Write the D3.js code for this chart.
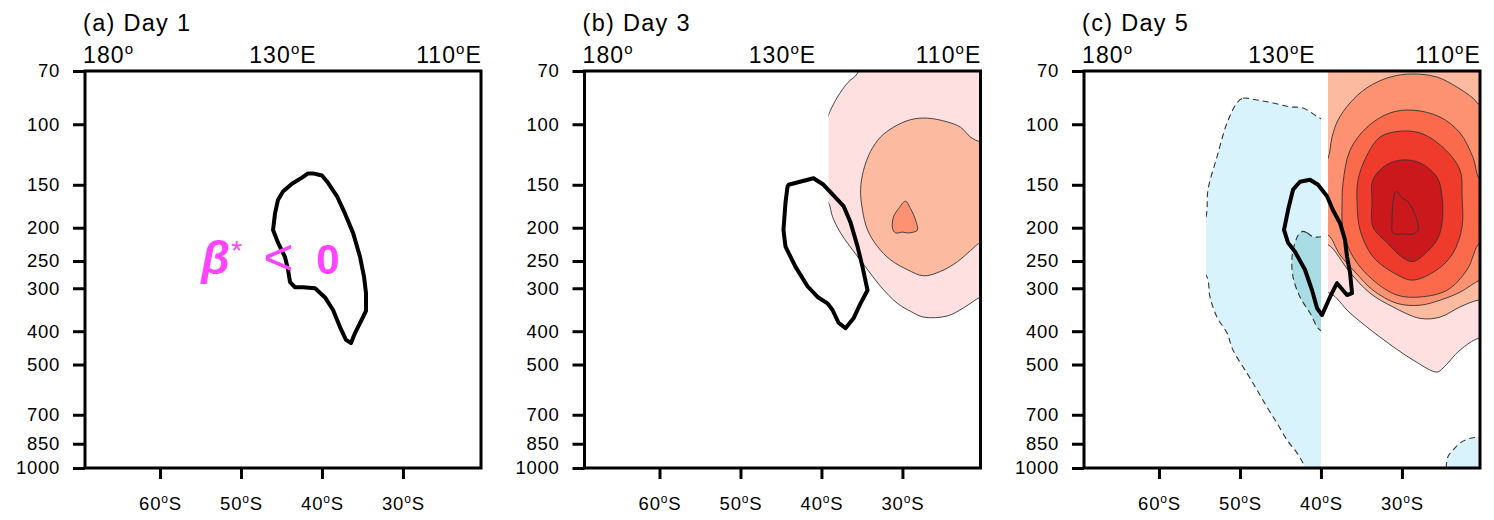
<!DOCTYPE html>
<html>
<head>
<meta charset="utf-8">
<script src="https://cdn.jsdelivr.net/npm/d3@7"></script>
<style>
  body { margin: 0; background: #fff; }
  svg { display: block; }
  text { font-family: "Liberation Sans", Arial, Helvetica, sans-serif; fill: #000; }
</style>
</head>
<body>
<svg id="chart" width="1494" height="520"></svg>
<script>
// ---- data (latitude in degrees, negative = south; pressure in hPa) ----
const panelTitles = ["(a) Day 1", "(b) Day 3", "(c) Day 5"];
const pressureTicks = [70, 100, 150, 200, 250, 300, 400, 500, 700, 850, 1000];
const latTicks = [-60, -50, -40, -30];
const lonLabels = [["180", ""], ["130", "E"], ["110", "E"]];

const posColors = ["#fee0e1", "#fcbba1", "#fc9272", "#fb6a4a", "#ef3b2c", "#cb181d"];
const negColors = ["#d9f3fc", "#a9dde6"];
const posMaskLat = -39.13;
const negMaskLat = [-54.19, -40.0];

// beta* = 0 contours
const day1Beta = [[-41.1,139],[-40.0,141],[-39.25,148],[-38.14,162],[-37.15,182],[-36.16,207],[-35.3,243],[-34.8,278],[-34.56,310],[-34.56,349],[-35.3,379],[-35.92,405],[-36.41,433],[-37.03,424],[-37.77,389],[-38.63,347],[-39.62,319],[-40.85,300],[-42.34,298],[-43.33,298],[-43.94,288],[-44.19,265],[-44.57,243],[-45.43,221],[-46.04,203],[-45.8,182],[-45.43,166],[-44.81,157],[-43.7,149],[-42.46,143],[-41.72,139]];
const day3Beta = [[-44.07,150],[-40.98,143.6],[-39.74,150],[-38.63,160],[-37.27,173],[-36.41,193],[-35.54,227],[-34.93,260],[-34.31,304],[-35.17,332],[-36.04,367],[-37.03,392],[-37.89,378],[-38.63,347],[-39.25,332],[-40.48,318],[-41.72,296],[-43.2,260],[-44.44,227],[-44.69,203],[-44.44,169],[-44.19,152]];
const day5Beta = [[-42.59,147],[-41.35,145],[-40.36,150],[-39.25,162],[-38.51,178],[-37.64,194],[-37.03,217],[-36.78,243],[-36.41,270],[-36.16,310],[-36.78,314],[-38.02,290],[-38.88,318],[-39.87,359],[-40.48,343],[-41.1,304],[-41.97,265],[-43.2,235],[-44.07,221],[-44.56,203],[-44.07,178],[-43.45,155]];

// day 3 positive anomaly contours
const day3Pos1 = [[-35.54,71],[-36.78,75.8],[-38.02,83.3],[-38.88,91],[-39.13,94],[-40.36,111],[-40.61,136],[-40.11,160],[-39.13,169],[-38.63,186],[-37.64,207],[-36.16,232],[-34.56,260],[-32.71,296],[-30.61,332],[-29.0,350],[-27.39,364],[-24.43,361],[-22.45,342],[-20.36,318],[-19,310],[-19,60],[-35.0,60]];
const day3Pos2 = [[-20.36,112.5],[-21.59,109],[-22.83,102],[-24.43,98.5],[-26.9,96],[-29.0,97],[-31.1,102],[-32.71,109],[-33.94,120],[-34.8,136],[-35.17,155],[-34.93,178],[-34.31,203],[-33.07,227],[-31.47,248],[-29.37,265],[-27.39,276],[-25.3,268],[-23.19,251],[-21.59,233],[-20.36,221],[-19,221],[-19,112]];
const day3Pos3 = [[-29.62,167.5],[-29.0,176],[-28.38,190],[-28.14,203],[-28.63,206],[-29.37,207],[-29.99,206],[-30.85,207],[-31.22,201],[-31.1,186],[-30.48,176]];

// day 5 negative anomaly contours
const day5Neg1 = [[-50.37,86.7],[-49.62,84],[-47.89,85],[-45.92,86.7],[-43.82,89],[-42.21,89.7],[-40.48,95],[-39.87,97],[-38.5,110],[-38.5,1100],[-41.8,1100],[-41.97,1000],[-42.95,905],[-44.19,829],[-45.43,740],[-46.66,665],[-47.89,593],[-49.13,530],[-50.86,454],[-51.6,405],[-52.84,364],[-53.7,318],[-54.07,278],[-56,240],[-54.19,186],[-53.95,155],[-52.84,124.5],[-51.6,99.2]];
const day5Neg2 = [[-42.21,205],[-41.72,207],[-40.98,212.5],[-39.87,212.5],[-38.8,212],[-38.8,400],[-40.11,397],[-41.35,354],[-42.59,318],[-43.45,278],[-43.57,243],[-43.2,221],[-42.71,208.5]];
const day5NegCorner = [[-24.6,1100],[-24.55,1000],[-24.31,926],[-23.69,887],[-22.83,846],[-21.84,823],[-20.6,813],[-19,810],[-19,1100]];

// day 5 positive anomaly contours, outermost first
const day5Pos1 = [[-38.88,310],[-36.41,354],[-32.71,416],[-28.63,485],[-25.67,526],[-24.93,512],[-22.83,454],[-20.6,420],[-19,420],[-19,60],[-40.5,60],[-40.5,310]];
const day5Pos2 = [[-39.13,224],[-36.41,270],[-33.94,310],[-31.1,340],[-27.76,367],[-25.3,364],[-22.83,340],[-20.6,325],[-19,325],[-19,60],[-40.5,60],[-40.5,224]];
const day5Pos3 = [[-40.5,140],[-39.13,125.6],[-38.63,109],[-37.89,97.2],[-36.41,86.7],[-34.31,78.3],[-31.47,72.9],[-28.63,71.4],[-25.67,72.9],[-23.19,78],[-21.22,84],[-20.36,88],[-19,88],[-19,280],[-20.36,284],[-22.83,308],[-25.3,325],[-27.76,336],[-30.61,332],[-33.57,304],[-35.79,269],[-37.64,240],[-39.13,210],[-40.5,210]];
const day5Pos4 = [[-37.27,148],[-36.41,119],[-34.31,102],[-31.47,92.7],[-28.63,91],[-25.3,95.3],[-22.83,106],[-21.22,125],[-20.36,145],[-19,145],[-19,221],[-20.36,221],[-21.96,265],[-24.43,304],[-27.76,318],[-30.61,314],[-33.57,284],[-36.04,243],[-37.27,203],[-37.39,169]];
const day5Pos5 = [[-35.42,145],[-34.31,123],[-32.71,109],[-30.61,105],[-27.76,106],[-24.93,116.8],[-22.83,136],[-22.58,162],[-22.58,199],[-23.69,237],[-25.67,265],[-28.63,284],[-30.61,274],[-33.57,243],[-35.17,203],[-35.54,169]];
const day5Pos6 = [[-33.57,145],[-31.84,131],[-29.87,127],[-27.76,129.6],[-25.67,142.5],[-25.05,162],[-25.05,194],[-25.67,217],[-26.9,235],[-28.63,251],[-29.87,244.6],[-31.84,221],[-33.57,199],[-33.69,169]];
const day5Pos7 = [[-30.61,157],[-29.99,163.7],[-29.25,168],[-28.63,178],[-28.14,190],[-28.01,203],[-28.63,208.5],[-29.87,208.5],[-31.1,207],[-31.22,190],[-31.1,169],[-30.85,158]];

// ---- layout ----
const panelLeft = [85, 584.5, 1084];
const plotW = 396, plotTop = 71, plotBottom = 468;
const latDomain = [-69.26, -20.36];

const svg = d3.select("#chart");
const x = d3.scaleLinear().domain(latDomain).range([0, plotW]);
const y = d3.scaleLog().domain([70, 1000]).range([plotTop, plotBottom]);

const smooth = d3.line().x(d => x(d[0])).y(d => y(d[1])).curve(d3.curveCatmullRomClosed.alpha(0.5));
const poly = d3.line().x(d => x(d[0])).y(d => y(d[1])).curve(d3.curveLinearClosed);

const panels = [
  { beta: day1Beta, fields: [] },
  { beta: day3Beta, fields: [
    { ring: day3Pos1, color: posColors[0], mask: [posMaskLat, 0] },
    { ring: day3Pos2, color: posColors[1], mask: [posMaskLat, 0] },
    { ring: day3Pos3, color: posColors[2], mask: [posMaskLat, 0] }
  ] },
  { beta: day5Beta, fields: [
    { ring: day5Neg1, color: negColors[0], mask: negMaskLat, dashed: true },
    { ring: day5Neg2, color: negColors[1], mask: [-90, negMaskLat[1]], dashed: true },
    { ring: day5NegCorner, color: negColors[0], mask: [-90, 0], dashed: true },
    { ring: day5Pos1, color: posColors[0], mask: [posMaskLat, 0] },
    { ring: day5Pos2, color: posColors[1], mask: [posMaskLat, 0] },
    { ring: day5Pos3, color: posColors[2], mask: [posMaskLat, 0] },
    { ring: day5Pos4, color: posColors[3], mask: [posMaskLat, 0] },
    { ring: day5Pos5, color: posColors[4], mask: [posMaskLat, 0] },
    { ring: day5Pos6, color: posColors[5], mask: [posMaskLat, 0] },
    { ring: day5Pos7, color: posColors[5], mask: [posMaskLat, 0] }
  ] }
];

const defs = svg.append("defs");

function degLabel(sel, num, suffix, big) {
  sel.text(null);
  sel.append("tspan").text(num);
  sel.append("tspan").text("o").attr("font-size", big ? 15 : 12).attr("dy", big ? -9 : -7);
  if (suffix) sel.append("tspan").text(suffix).attr("dy", big ? 9 : 7);
}

panels.forEach((p, i) => {
  const g = svg.append("g").attr("transform", `translate(${panelLeft[i]},0)`);

  // fields, each clipped to plot box and its data mask
  p.fields.forEach((f, j) => {
    const id = `clip-${i}-${j}`;
    const x0 = Math.max(0, x(f.mask[0])), x1 = Math.min(plotW, x(f.mask[1]));
    defs.append("clipPath").attr("id", id).append("rect")
      .attr("x", x0).attr("y", plotTop).attr("width", x1 - x0).attr("height", plotBottom - plotTop);
    f.clip = id;
    g.append("path").attr("d", smooth(f.ring)).attr("fill", f.color)
      .attr("clip-path", `url(#${id})`);
  });
  p.fields.forEach(f => {
    g.append("path").attr("d", smooth(f.ring)).attr("fill", "none")
      .attr("stroke", "#333").attr("stroke-width", f.dashed ? 1.1 : 0.9)
      .attr("stroke-dasharray", f.dashed ? "6,4" : null)
      .attr("clip-path", `url(#${f.clip})`);
  });

  // thick beta* = 0 contour
  g.append("path").attr("d", poly(p.beta)).attr("fill", "none")
    .attr("stroke", "#000").attr("stroke-width", 4).attr("stroke-linejoin", "round");

  // frame
  g.append("rect").attr("x", 0).attr("y", plotTop).attr("width", plotW).attr("height", plotBottom - plotTop)
    .attr("fill", "none").attr("stroke", "#000").attr("stroke-width", 3);

  // left axis
  const ya = g.append("g").call(d3.axisLeft(y).tickValues(pressureTicks).tickFormat(d3.format("d")).tickSize(12).tickPadding(13));
  ya.select(".domain").remove();
  ya.selectAll("line").attr("stroke-width", 3);
  ya.selectAll("text").attr("font-size", 18.5).attr("letter-spacing", 0.7)
    .attr("font-family", "Liberation Sans, Arial, sans-serif");

  // bottom axis
  const xa = g.append("g").attr("transform", `translate(0,${plotBottom})`)
    .call(d3.axisBottom(x).tickValues(latTicks).tickSize(11).tickPadding(18));
  xa.select(".domain").remove();
  xa.selectAll("line").attr("stroke-width", 3);
  xa.selectAll("text").attr("font-size", 18.5).attr("letter-spacing", 0.8)
    .attr("font-family", "Liberation Sans, Arial, sans-serif")
    .each(function(d) { degLabel(d3.select(this), String(Math.abs(d)), "S", false); });

  // top longitude labels
  const anchors = ["start", "middle", "end"];
  const lx = [-2, plotW / 2, plotW + 1];
  lonLabels.forEach((l, k) => {
    const t = g.append("text").attr("x", lx[k]).attr("y", 63).attr("text-anchor", anchors[k])
      .attr("font-size", 23).attr("letter-spacing", 1.1);
    degLabel(t, l[0], l[1], true);
  });

  // title
  g.append("text").attr("x", -2).attr("y", 31).attr("font-size", 23.5).attr("letter-spacing", 1.3)
    .text(panelTitles[i]);
});

// beta* < 0 annotation in panel (a)
const ann = svg.append("g").attr("transform", `translate(${panelLeft[0] + x(-54.9)},${y(272)})`);
ann.append("text").attr("x", 0).attr("y", 0).attr("font-family", "DejaVu Serif").attr("font-weight", "bold")
  .attr("font-style", "italic").attr("font-size", 46).style("fill", "#ff44ff").text("β");
ann.append("text").attr("x", 30).attr("y", -14).attr("font-family", "DejaVu Serif")
  .attr("font-size", 28).style("fill", "#ff44ff").text("*");
ann.append("text").attr("x", 62).attr("y", 1).attr("font-family", "DejaVu Sans")
  .attr("font-size", 52).style("fill", "#ff44ff").text("<");
ann.append("text").attr("x", 115).attr("y", 0).attr("font-family", "DejaVu Serif").attr("font-weight", "bold")
  .attr("font-size", 42).style("fill", "#ff44ff").text("0");
</script>
</body>
</html>
